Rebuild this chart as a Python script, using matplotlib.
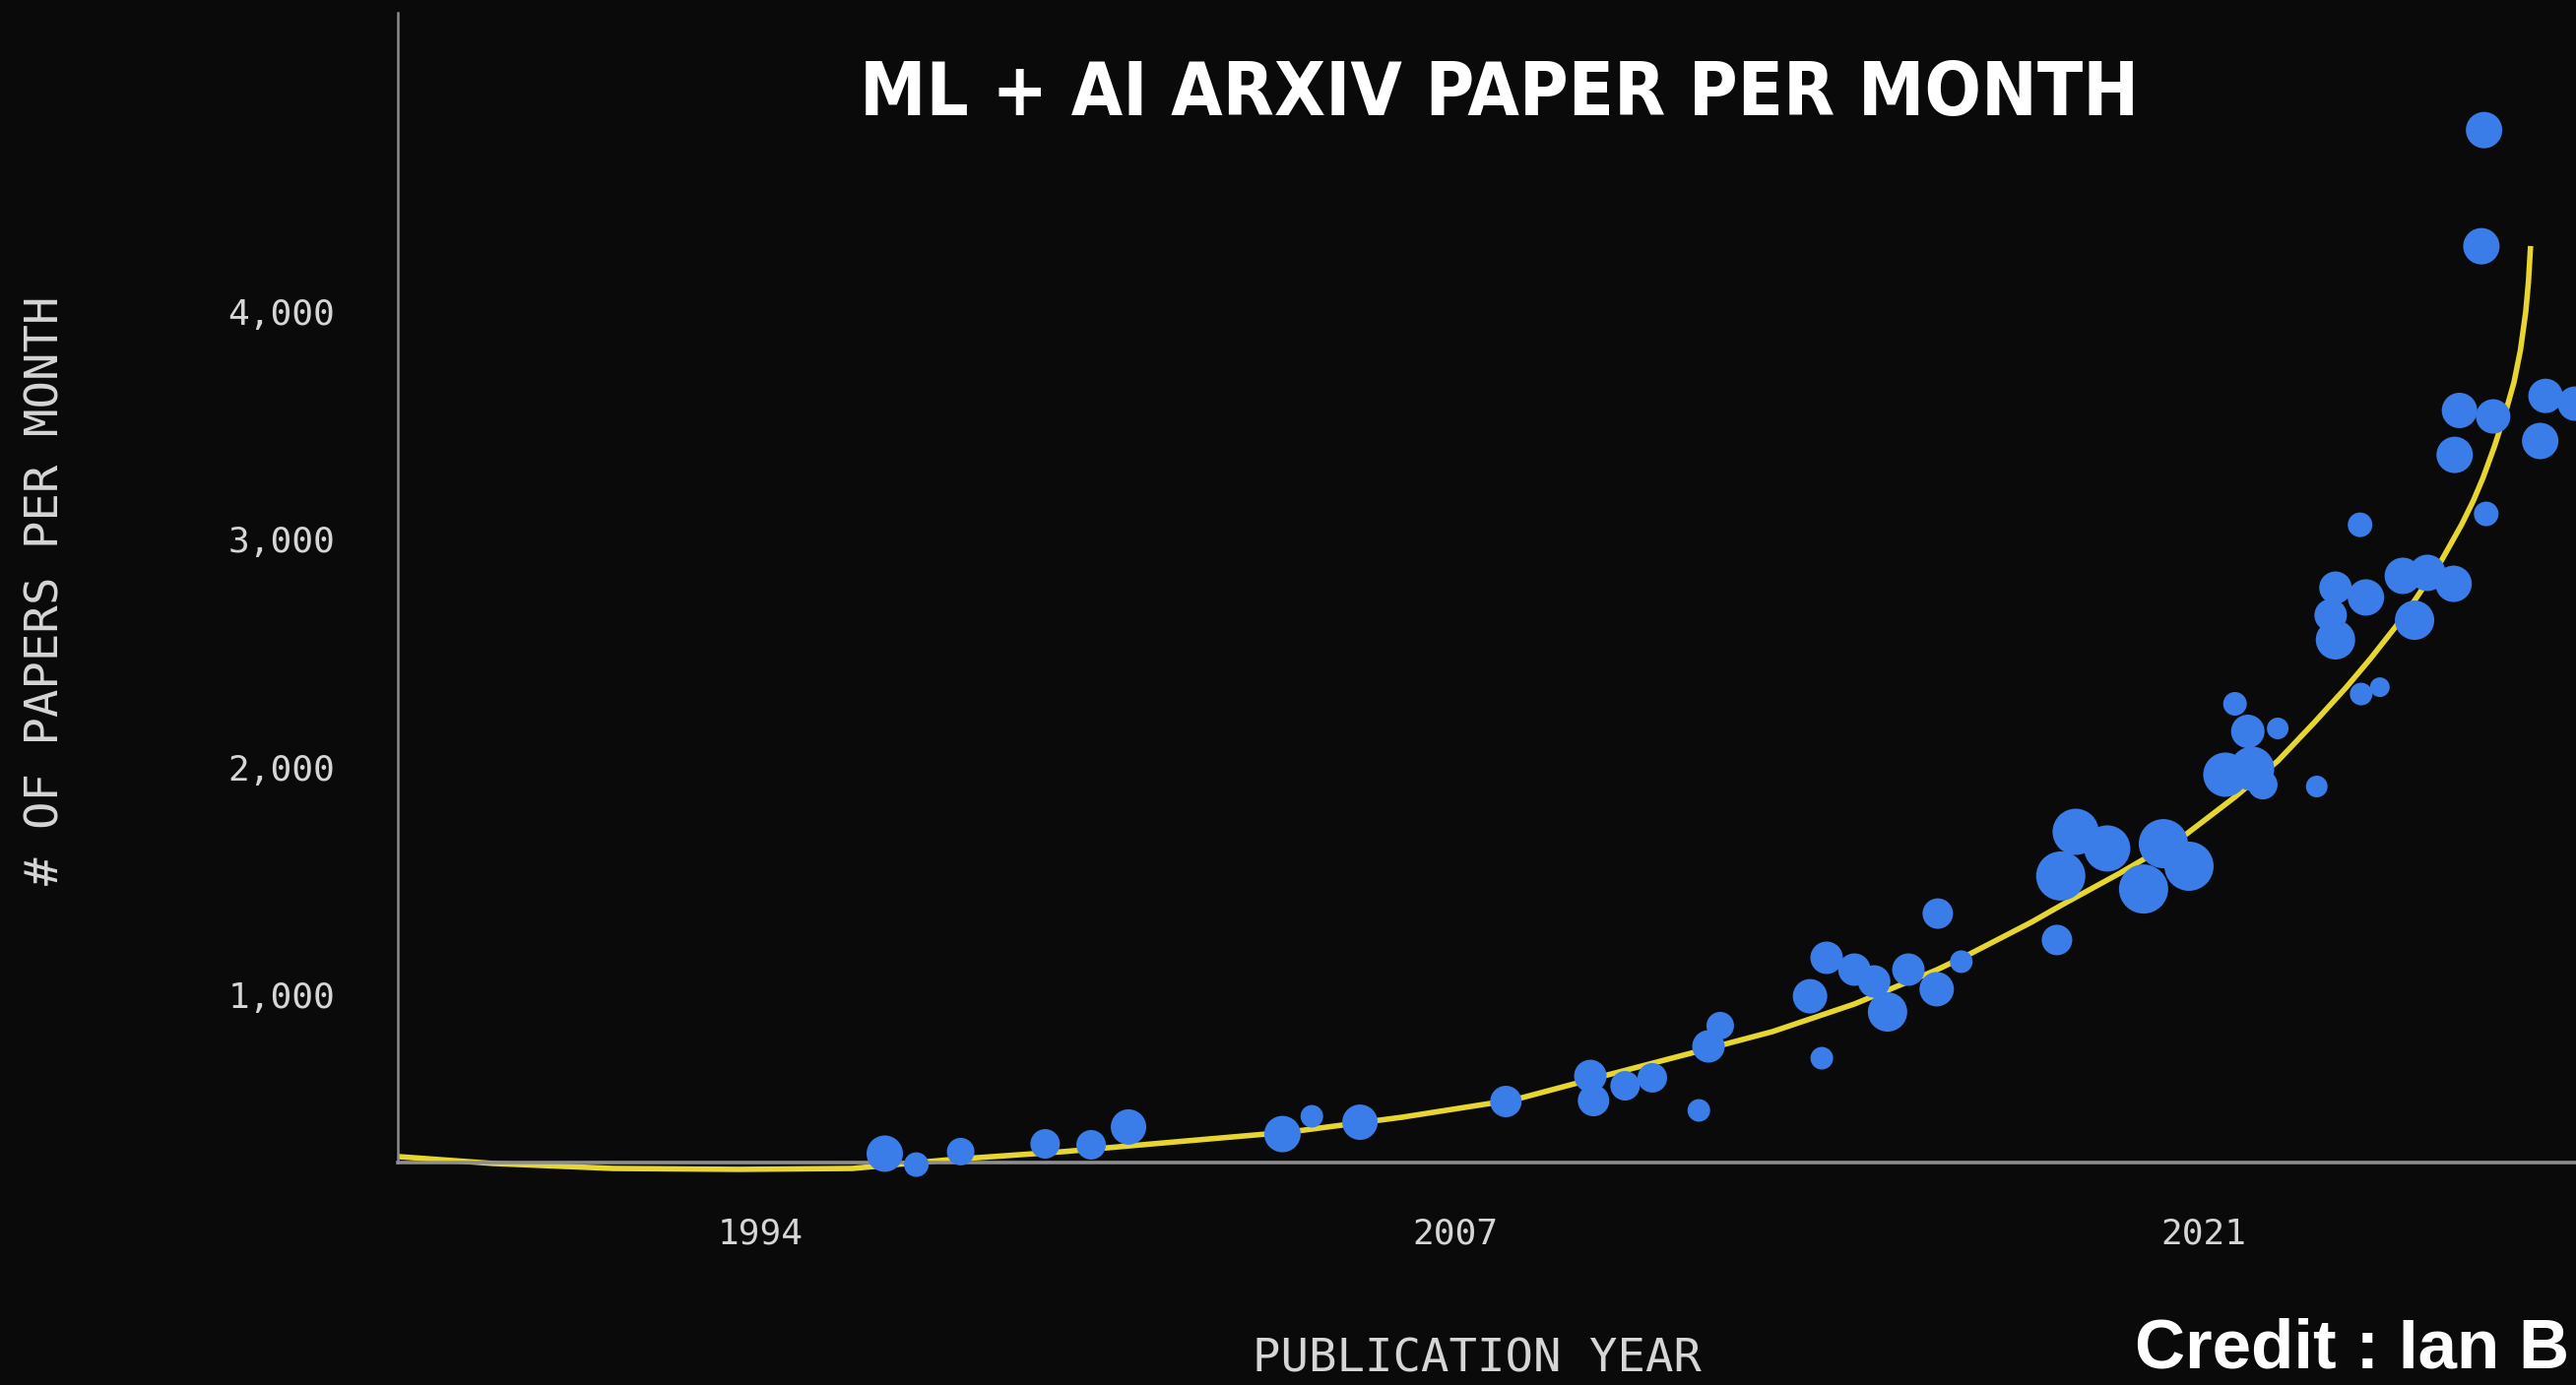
import numpy as np
import matplotlib
matplotlib.use('Agg')
import matplotlib.pyplot as plt
from matplotlib import font_manager
from matplotlib.ticker import FixedLocator, FuncFormatter


# monthly paper counts (year as decimal, papers per month)
years = [1996.32, 1996.91, 1997.74, 1999.32, 2000.18, 2000.88, 2003.76, 2004.31,
         2005.21, 2007.94, 2009.52, 2009.58, 2010.17, 2010.68, 2011.55, 2011.73,
         2011.95, 2013.63, 2013.85, 2013.94, 2014.46, 2014.83, 2015.08, 2015.47,
         2016.00, 2016.02, 2016.46, 2018.25, 2018.32, 2018.60, 2019.19, 2019.87,
         2020.24, 2020.72, 2021.58, 2021.82, 2022.38, 2021.40, 2021.90, 2022.10,
         2023.11, 2023.46, 2024.03, 2023.37, 2023.46, 2024.72, 2025.18, 2025.67,
         2024.94, 2023.94, 2024.29, 2023.92, 2026.28, 2025.78, 2026.41, 2025.69,
         2027.29, 2027.39, 2027.94, 2026.24, 2026.19]
papers = [303, 255, 312, 346, 342, 420, 389, 467,
          441, 532, 644, 536, 601, 636, 493, 774,
          865, 994, 722, 1163, 1111, 1059, 925, 1111,
          1025, 1357, 1146, 1241, 1522, 1716, 1643, 1465,
          1664, 1565, 2278, 2157, 2170, 1967, 1993, 1923,
          1915, 2788, 2745, 2667, 2559, 2840, 2853, 2805,
          2645, 2321, 2351, 3064, 3112, 3566, 3540, 3371,
          3432, 3630, 3596, 4797, 4287]
# relative bubble weight (drawn diameter)
bubble = [37, 25, 28, 30, 30, 36, 37, 23,
          36, 32, 33, 32, 30, 30, 23, 33,
          28, 35, 23, 33, 33, 33, 40, 33,
          35, 31, 23, 31, 50, 47, 47, 50,
          50, 50, 24, 34, 22, 45, 45, 30,
          22, 33, 37, 33, 40, 37, 37, 37,
          40, 23, 20, 25, 25, 36, 35, 37,
          37, 35, 35, 37, 37]

# trend line
trend_years = [1987.22, 1988.99, 1991.24, 1993.59, 1995.71, 1997.55, 1999.67,
               2001.77, 2003.89, 2006.00, 2008.12, 2009.85, 2011.40, 2012.93,
               2014.46, 2016.00, 2016.59, 2017.77, 2018.34, 2019.43, 2020.66,
               2021.58, 2022.38, 2023.06, 2023.66, 2024.11, 2024.58, 2024.95,
               2025.45, 2025.82, 2026.04, 2026.22, 2026.43, 2026.65, 2026.80,
               2026.92, 2027.02, 2027.07, 2027.11]
trend_papers = [290, 260, 238, 234, 238, 277, 312,
                355, 398, 463, 541, 649, 744, 839,
                960, 1110, 1176, 1319, 1395, 1535, 1704,
                1869, 2027, 2195, 2350, 2475, 2615, 2735,
                2910, 3065, 3170, 3270, 3405, 3565, 3690,
                3830, 4000, 4130, 4288]

year_ticks = [1994, 2007, 2021]
paper_ticks = [1000, 2000, 3000, 4000]

bg = '#0a0a0a'
blue = '#3a7ce8'
yellow = '#e8d630'
grey = '#8e8e8e'
label_col = '#d6d6d6'

fig = plt.figure(figsize=(26.16, 14.07), dpi=100, facecolor=bg)
W, H = 2616, 1407
ax = fig.add_axes([404 / W, (H - 1181) / H, (W - 404) / W, (1181 - 13) / H])
ax.set_facecolor(bg)

ax.plot(trend_years, trend_papers, color=yellow, lw=4, zorder=2,
        solid_joinstyle='round', solid_capstyle='butt', clip_on=False)
sizes = [(d / 1.389) ** 2 for d in bubble]
ax.scatter(years, papers, s=sizes, color=blue, edgecolors='none',
           zorder=3, clip_on=False)

ax.set_xlim(1987.21, 2027.96)
ax.set_ylim(264, 5312)

for side in ['top', 'right']:
    ax.spines[side].set_visible(False)
ax.spines['left'].set_color(grey)
ax.spines['left'].set_linewidth(1.8)
ax.spines['bottom'].set_color(grey)
ax.spines['bottom'].set_linewidth(2.6)

ax.xaxis.set_major_locator(FixedLocator(year_ticks))
ax.yaxis.set_major_locator(FixedLocator(paper_ticks))
ax.yaxis.set_major_formatter(FuncFormatter(lambda v, p: f'{int(v):,}'))
ax.tick_params(axis='both', length=0, colors=label_col, labelsize=26)
ax.tick_params(axis='y', pad=46)
ax.tick_params(axis='x', pad=40)
for lab in ax.get_xticklabels() + ax.get_yticklabels():
    lab.set_family('DejaVu Sans Mono')

fig.text(47 / W, 1 - 600 / H, '# OF PAPERS PER MONTH', rotation=90,
         ha='center', va='center', color=label_col, fontsize=34,
         family='DejaVu Sans Mono')
fig.text(1500 / W, 1 - 1381 / H, 'PUBLICATION YEAR', ha='center', va='center',
         color=label_col, fontsize=34, family='DejaVu Sans Mono')

# title: the original uses a very condensed heavy face, take a narrow one if present
narrow = None
for f in font_manager.fontManager.ttflist:
    tag = (f.name + ' ' + f.fname).lower()
    heavy = f.weight in ('bold', 'heavy', 'black') or (isinstance(f.weight, int) and f.weight >= 600)
    if heavy and ('narrow' in tag or 'condensed' in tag or 'condensed' in str(f.stretch)):
        narrow = f.fname
        break
if narrow:
    title_font = font_manager.FontProperties(fname=narrow, size=89)
else:
    title_font = font_manager.FontProperties(family='Liberation Sans', weight='bold', size=89)
title = fig.text(1523 / W, 1 - 92 / H, 'ML + AI ARXIV PAPER PER MONTH', ha='center',
                 va='center_baseline', color='white', fontproperties=title_font)
fig.canvas.draw()
tw = title.get_window_extent(renderer=fig.canvas.get_renderer()).width
if tw > 1300:
    title.set_fontsize(89 * 1300 / tw)
# keep the caps centred on the reference title band
fs = title.get_fontsize()
title.set_va('baseline')
title.set_y(1 - (90 + 0.36 * fs * 100 / 72) / H)

fig.text(2168 / W, 3 / H, 'Credit : Ian B', ha='left', va='bottom',
         color='white', fontsize=51, fontweight='bold',
         family=['Liberation Sans', 'DejaVu Sans'])

fig.savefig('out.png', dpi=100, facecolor=bg)
